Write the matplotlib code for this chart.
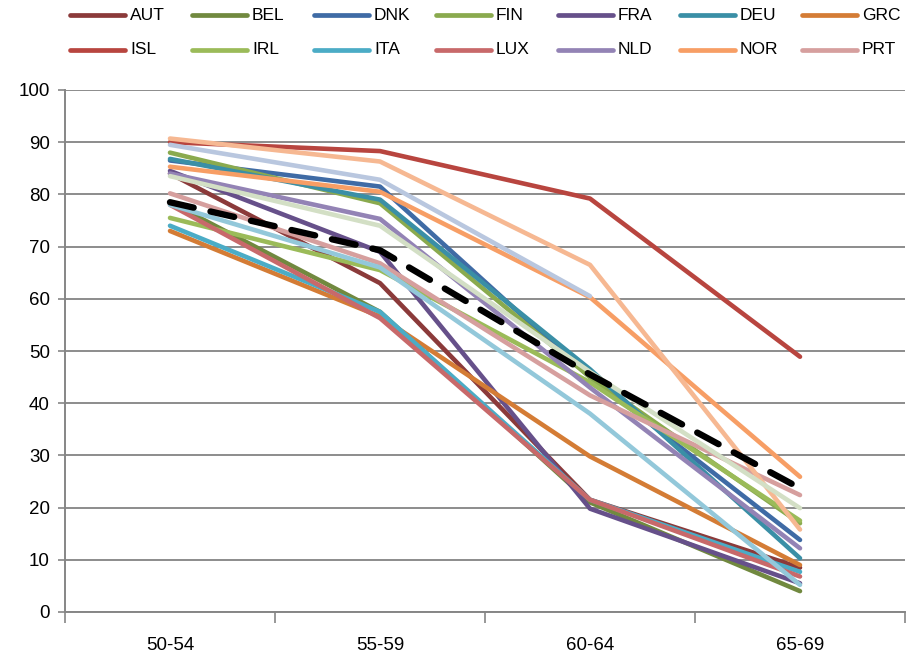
import numpy as np
import matplotlib
matplotlib.use("Agg")
import matplotlib.pyplot as plt
from matplotlib.lines import Line2D

plt.rcParams['font.family'] = ['Liberation Sans Narrow', 'Liberation Sans', 'DejaVu Sans']

age_groups = ["50-54", "55-59", "60-64", "65-69"]

# employment rate by age group, per country
AUT = [84.0, 63.0, 21.5, 8.5]
BEL = [78.5, 57.5, 21.0, 4.0]
DNK = [86.5, 81.5, 45.0, 13.8]
FIN = [88.0, 78.3, 45.0, 17.0]
FRA = [84.5, 69.0, 19.8, 5.5]
DEU = [86.8, 79.0, 46.5, 10.3]
GRC = [73.0, 56.6, 29.8, 9.0]
ISL = [90.0, 88.3, 79.2, 48.9]
IRL = [75.5, 65.5, 44.0, 17.5]
ITA = [74.0, 57.5, 21.5, 7.7]
LUX = [78.0, 56.3, 21.5, 6.8]
NLD = [84.0, 75.3, 43.0, 12.2]
NOR = [85.3, 80.5, 60.3, 25.9]
PRT = [80.2, 66.8, 41.5, 22.4]
ESP = [89.5, 82.8, 60.5, np.nan]
SWE = [90.7, 86.3, 66.5, 15.8]
CHE = [83.5, 74.0, 46.0, 19.9]
GBR = [78.0, 66.0, 38.0, 5.2]
OECD = [78.5, 69.3, 45.5, 23.7]

legend_names = ["AUT", "BEL", "DNK", "FIN", "FRA", "DEU", "GRC",
                "ISL", "IRL", "ITA", "LUX", "NLD", "NOR", "PRT"]
series = [AUT, BEL, DNK, FIN, FRA, DEU, GRC, ISL, IRL, ITA, LUX, NLD, NOR, PRT,
          ESP, SWE, CHE, GBR]
colors = ["#8B3A3A", "#71893F", "#3F6BA5", "#8AAA4E", "#66508A", "#3A8FA6", "#D47C35",
          "#B8453F", "#9BBB59", "#4BACC6", "#C8696A", "#9383B5", "#F79E65", "#D69F9E",
          "#B9C7DF", "#F6B892", "#D3DFC5", "#93C8DA"]

W, H = 908, 659
fig = plt.figure(figsize=(W / 100, H / 100), dpi=100)
ax = fig.add_axes([65 / W, 1 - 612 / H, 840 / W, 522 / H])

x = np.arange(len(age_groups))
for vals, c in zip(series, colors):
    ax.plot(x, vals, color=c, lw=3.3, solid_capstyle='round', solid_joinstyle='round')
ax.plot(x, OECD, color="black", lw=4.6, linestyle=(0, (3.8, 2.7)), dash_capstyle='round')

ax.set_xlim(-0.5, len(age_groups) - 0.5)
ax.set_ylim(0, 100)
ax.set_yticks(np.arange(0, 101, 10))
ax.set_xticks(x)
ax.set_xticklabels(age_groups)
ax.set_xticks(np.arange(-0.5, len(age_groups), 1), minor=True)
ax.tick_params(axis='x', which='major', length=0, pad=18, labelsize=13.5)
ax.tick_params(axis='x', which='minor', length=8, color="#868686", width=1.2)
ax.tick_params(axis='y', length=5, color="#868686", width=1.2, labelsize=13.5, pad=6)

ax.grid(axis='y', color="#8C8C8C", lw=1.4)
ax.set_axisbelow(True)
for side in ['top', 'right']:
    ax.spines[side].set_visible(False)
for side in ['left', 'bottom']:
    ax.spines[side].set_color("#868686")
    ax.spines[side].set_linewidth(1.4)

# legend laid out as a 7 x 2 grid across the top
for i, name in enumerate(legend_names):
    col, row = i % 7, i // 7
    x0 = 70 + 122 * col
    y0 = 15 + 35 * row
    fig.add_artist(Line2D([x0 / W, (x0 + 55) / W], [1 - y0 / H, 1 - y0 / H],
                          color=colors[i], lw=3.4, solid_capstyle='round'))
    fig.text((x0 + 60) / W, 1 - y0 / H, name, fontsize=12.5, va='center', ha='left')

fig.savefig("out.png", dpi=100)
